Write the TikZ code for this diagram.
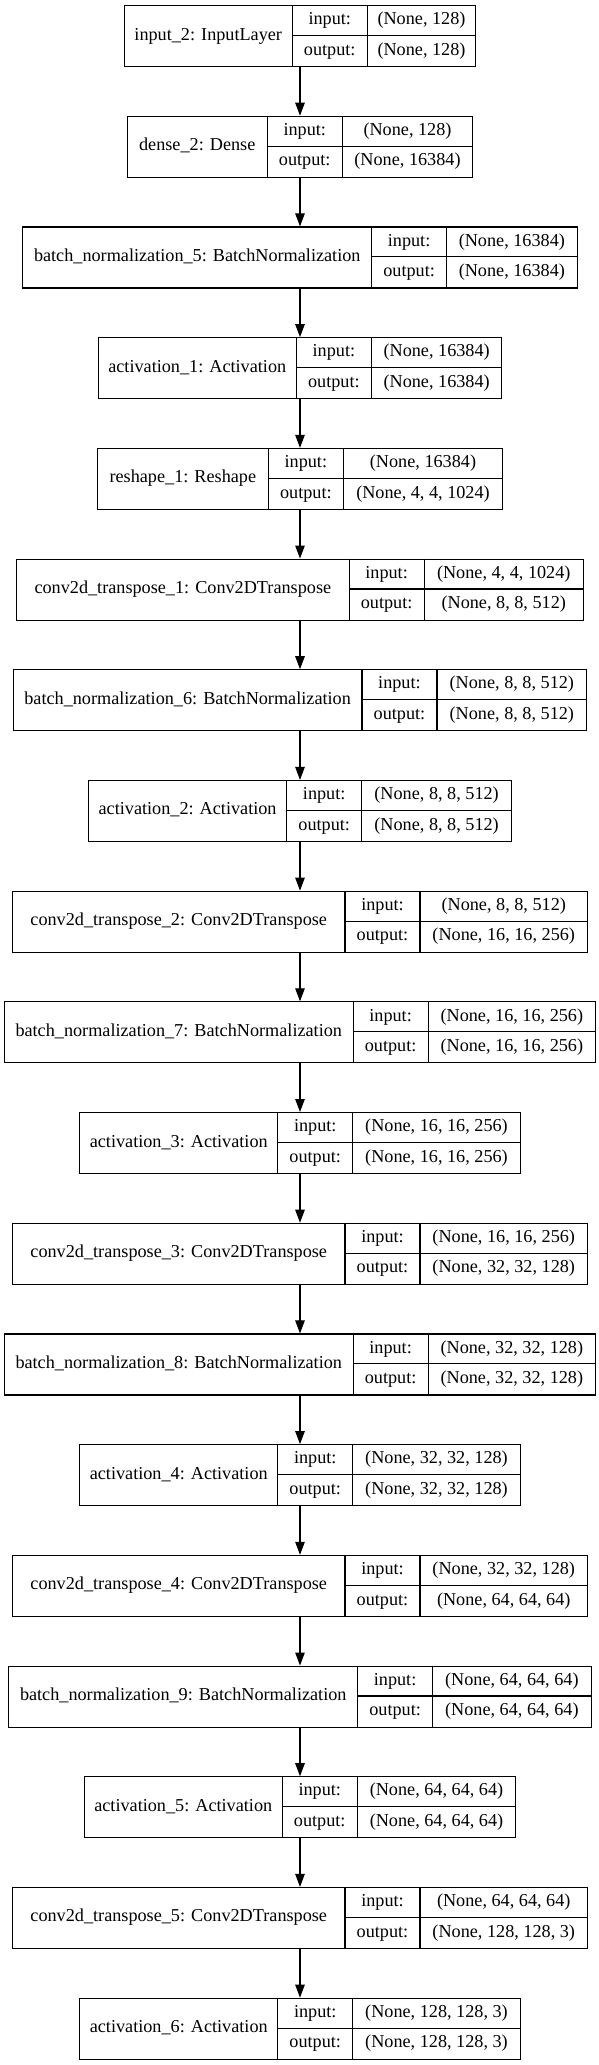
\documentclass[tikz,border=0pt]{standalone}
\usepackage{fontspec}
\setmainfont{Liberation Serif}
\usepackage{tikz}
\usetikzlibrary{arrows.meta}

\tikzset{
  recbox/.style={draw, line width=1.1pt, inner sep=0pt, minimum height=61pt},
  field/.style={inner sep=0pt, text height=13pt, text depth=4pt, font=\fontsize{18.2}{22}\selectfont},
  flow/.style={-{Triangle[length=13pt, width=9.5pt]}, line width=1.1pt}
}

% one keras layer record: name, row, label width, value width, label, input, output
\newcommand{\layerbox}[7]{
  \pgfmathsetmacro{\rowy}{5+#2*110.7}
  \pgfmathsetmacro{\xl}{300-(#3+75+#4)/2}
  \pgfmathsetmacro{\xm}{\xl+#3}
  \pgfmathsetmacro{\xn}{\xm+75}
  \pgfmathsetmacro{\xr}{\xn+#4}
  \node[recbox, minimum width={#3+75+#4}, anchor=north] (#1) at (300,\rowy) {};
  \draw[line width=1.1pt] (\xm,\rowy) -- ++(0,61) (\xn,\rowy) -- ++(0,61) (\xm,\rowy+30.5) -- (\xr,\rowy+30.5);
  \node[field] (#1-name) at ({(\xl+\xm)/2},\rowy+30.5) {#5};
  \node[field] (#1-in) at ({(\xm+\xn)/2},\rowy+15.25) {input:};
  \node[field] (#1-out) at ({(\xm+\xn)/2},\rowy+45.75) {output:};
  \node[field] (#1-inval) at ({(\xn+\xr)/2},\rowy+15.25) {#6};
  \node[field] (#1-outval) at ({(\xn+\xr)/2},\rowy+45.75) {#7};
}

\begin{document}
\begin{tikzpicture}[x=1pt, y=-1pt]
  \fill[white] (0,0) rectangle (599,2065);
  \useasboundingbox (0,0) rectangle (599,2065);

  \layerbox{in2}{0}{168}{108.5}{input\_2: InputLayer}{(None, 128)}{(None, 128)}
  \layerbox{dense2}{1}{140}{130.5}{dense\_2: Dense}{(None, 128)}{(None, 16384)}
  \layerbox{bn5}{2}{348.7}{130.5}{batch\_normalization\_5: BatchNormalization}{(None, 16384)}{(None, 16384)}
  \layerbox{act1}{3}{198.3}{130.5}{activation\_1: Activation}{(None, 16384)}{(None, 16384)}
  \layerbox{reshape1}{4}{171}{159.3}{reshape\_1: Reshape}{(None, 16384)}{(None, 4, 4, 1024)}
  \layerbox{conv1}{5}{332.5}{159.3}{conv2d\_transpose\_1: Conv2DTranspose}{(None, 4, 4, 1024)}{(None, 8, 8, 512)}
  \layerbox{bn6}{6}{348.7}{149.8}{batch\_normalization\_6: BatchNormalization}{(None, 8, 8, 512)}{(None, 8, 8, 512)}
  \layerbox{act2}{7}{198.2}{149.8}{activation\_2: Activation}{(None, 8, 8, 512)}{(None, 8, 8, 512)}
  \layerbox{conv2}{8}{332.5}{167.5}{conv2d\_transpose\_2: Conv2DTranspose}{(None, 8, 8, 512)}{(None, 16, 16, 256)}
  \layerbox{bn7}{9}{348.7}{167.5}{batch\_normalization\_7: BatchNormalization}{(None, 16, 16, 256)}{(None, 16, 16, 256)}
  \layerbox{act3}{10}{198}{167.5}{activation\_3: Activation}{(None, 16, 16, 256)}{(None, 16, 16, 256)}
  \layerbox{conv3}{11}{332.5}{167.5}{conv2d\_transpose\_3: Conv2DTranspose}{(None, 16, 16, 256)}{(None, 32, 32, 128)}
  \layerbox{bn8}{12}{348.7}{167.5}{batch\_normalization\_8: BatchNormalization}{(None, 32, 32, 128)}{(None, 32, 32, 128)}
  \layerbox{act4}{13}{198}{167.5}{activation\_4: Activation}{(None, 32, 32, 128)}{(None, 32, 32, 128)}
  \layerbox{conv4}{14}{332.5}{167.5}{conv2d\_transpose\_4: Conv2DTranspose}{(None, 32, 32, 128)}{(None, 64, 64, 64)}
  \layerbox{bn9}{15}{348.7}{158.5}{batch\_normalization\_9: BatchNormalization}{(None, 64, 64, 64)}{(None, 64, 64, 64)}
  \layerbox{act5}{16}{198}{158.5}{activation\_5: Activation}{(None, 64, 64, 64)}{(None, 64, 64, 64)}
  \layerbox{conv5}{17}{332.5}{167.5}{conv2d\_transpose\_5: Conv2DTranspose}{(None, 64, 64, 64)}{(None, 128, 128, 3)}
  \layerbox{act6}{18}{198}{167.5}{activation\_6: Activation}{(None, 128, 128, 3)}{(None, 128, 128, 3)}

  \foreach \a/\b in {in2/dense2, dense2/bn5, bn5/act1, act1/reshape1, reshape1/conv1, conv1/bn6,
      bn6/act2, act2/conv2, conv2/bn7, bn7/act3, act3/conv3, conv3/bn8, bn8/act4, act4/conv4,
      conv4/bn9, bn9/act5, act5/conv5, conv5/act6}
    \draw[flow] (\a) -- (\b);
\end{tikzpicture}
\end{document}
